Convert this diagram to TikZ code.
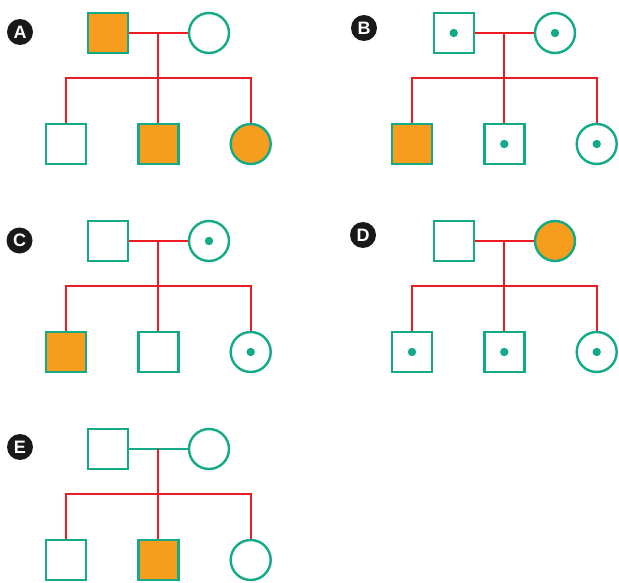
\documentclass[tikz,border=0pt]{standalone}
\usepackage{fontspec}
\setmainfont{Liberation Sans}
\usetikzlibrary{backgrounds}
\definecolor{tealg}{RGB}{20,170,135}
\definecolor{orng}{RGB}{246,157,30}
\definecolor{redl}{RGB}{237,28,36}
\tikzset{
  indiv/.style={draw=tealg, line width=2.4pt, minimum size=40pt, inner sep=0pt, fill=white},
  male/.style={indiv, rectangle},
  female/.style={indiv, circle},
  aff/.style={fill=orng},
  car/.style={path picture={\fill[tealg] (path picture bounding box.center) circle (4.2);}},
  link/.style={draw=redl, line width=1.8pt},
  tag/.style={circle, fill=black!90, minimum size=26pt, inner sep=0pt, text=white, font=\fontsize{18}{18}\selectfont\bfseries}
}
\newcommand{\pedig}[9]{%
  \node[male,#4] (#1f) at (#2+107.7,#3+33) {};
  \node[female,#5] (#1m) at (#2+209,#3+33) {};
  \node[male,#6] (#1a) at (#2+66,#3+144) {};
  \node[male,#7] (#1b) at (#2+158.3,#3+144) {};
  \node[female,#8] (#1c) at (#2+250.7,#3+144) {};
  \coordinate (#1j) at (#2+158.3,#3+33);
  \coordinate (#1s) at (#2+158.3,#3+78);
  \coordinate (#1sl) at (#2+66,#3+78);
  \coordinate (#1sr) at (#2+250.7,#3+78);
  \begin{scope}[on background layer]
  \draw[link,draw=#9] (#1f.east) -- (#1m.west);
  \draw[link] (#1j) -- (#1s);
  \draw[link] (#1a.north) -- (#1sl) -- (#1sr) -- (#1c.north);
  \draw[link] (#1s) -- (#1b.north);
  \end{scope}
}
\begin{document}
\begin{tikzpicture}[x=1pt,y=-1pt]
\useasboundingbox (0,0) rectangle (619,583);
\pedig{A}{0}{0}{aff}{}{}{aff}{aff}{redl}
\pedig{B}{346}{0}{car}{car}{aff}{car}{car}{redl}
\pedig{C}{0}{208}{}{car}{aff}{}{car}{redl}
\pedig{D}{346}{208}{}{aff}{car}{car}{car}{redl}
\pedig{E}{0}{416}{}{}{}{aff}{}{tealg}
\node[tag] (tA) at (20,32) {A};
\node[tag] (tB) at (364,28) {B};
\node[tag] (tC) at (19.5,240.5) {C};
\node[tag] (tD) at (363,235) {D};
\node[tag] (tE) at (20,447) {E};
\end{tikzpicture}
\end{document}
